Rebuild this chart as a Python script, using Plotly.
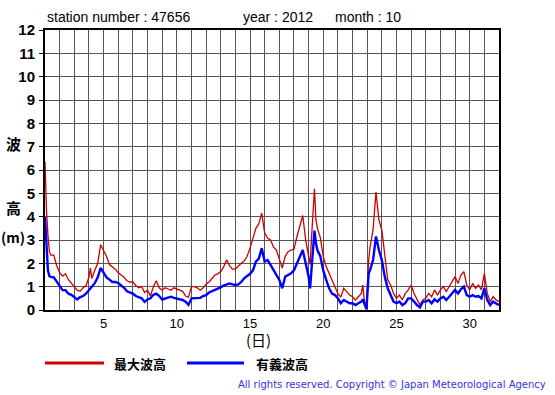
import plotly.graph_objects as go

# ---- data ----
days = [1.0, 1.05, 1.1, 1.2, 1.3, 1.4, 1.6, 1.8, 2.0, 2.2, 2.4, 2.6, 2.8, 3.0, 3.2, 3.4, 3.6, 3.8,
        4.0, 4.1, 4.2, 4.4, 4.6, 4.8, 5.0, 5.2, 5.4, 5.6, 5.8, 6.0, 6.2, 6.4, 6.6, 6.8, 7.0, 7.2, 7.4, 7.6, 7.8, 8.0,
        8.2, 8.4, 8.6, 8.8, 9.0, 9.2, 9.4, 9.6, 9.8, 10.0, 10.2, 10.4, 10.6, 10.8, 11.0, 11.2, 11.4, 11.6, 11.8,
        12.0, 12.2, 12.4, 12.6, 12.8, 13.0, 13.2, 13.4, 13.6, 13.8, 14.0, 14.2, 14.4, 14.6, 14.8, 15.0,
        15.2, 15.4, 15.6, 15.8, 16.0, 16.2, 16.4, 16.6, 16.8, 17.0, 17.2, 17.4, 17.6, 17.8, 18.0,
        18.2, 18.4, 18.6, 18.8, 19.0, 19.1, 19.2, 19.4, 19.5, 19.6, 19.8, 20.0, 20.2, 20.4, 20.6, 20.8, 21.0,
        21.2, 21.4, 21.6, 21.8, 22.0, 22.2, 22.4, 22.6, 22.7, 22.8, 22.95, 23.1, 23.2, 23.4, 23.6, 23.8, 24.0,
        24.2, 24.4, 24.6, 24.8, 25.0, 25.2, 25.4, 25.6, 25.8, 26.0, 26.2, 26.4, 26.6, 26.8, 27.0,
        27.2, 27.4, 27.6, 27.8, 28.0, 28.2, 28.4, 28.6, 28.8, 29.0, 29.2, 29.4, 29.6, 29.8, 30.0,
        30.2, 30.4, 30.6, 30.8, 31.0, 31.2, 31.4, 31.6, 31.8, 32.0]

max_wave = [6.36, 5.3, 4.3, 3.2, 2.5, 2.35, 2.35, 1.9, 1.6, 1.45, 1.55, 1.3, 1.15, 1.0, 0.85, 0.8, 0.95, 1.05,
            1.4, 1.8, 1.35, 1.7, 2.0, 2.8, 2.55, 2.3, 1.95, 1.85, 1.75, 1.6, 1.5, 1.4, 1.25, 1.2, 1.2, 1.05, 0.95, 1.0, 0.75, 0.85,
            0.6, 1.0, 1.25, 0.95, 0.85, 0.95, 0.9, 0.85, 0.95, 0.9, 0.85, 0.8, 0.6, 0.55, 1.0, 1.0, 0.95, 0.85, 0.95,
            1.1, 1.2, 1.35, 1.5, 1.55, 1.65, 1.85, 2.15, 1.9, 1.75, 1.75, 1.9, 2.0, 2.1, 2.3, 2.65,
            3.1, 3.5, 3.7, 4.15, 3.3, 3.07, 3.0, 2.7, 2.57, 2.2, 1.8, 2.3, 2.5, 2.57, 2.6,
            3.14, 3.64, 4.05, 3.0, 2.2, 1.95, 3.1, 5.2, 3.86, 3.5, 3.1, 2.3, 1.86, 1.57, 1.29, 1.07, 0.7,
            0.55, 0.93, 0.79, 0.64, 0.57, 0.43, 0.57, 0.71, 1.07, 0.43, 0.15, 2.14, 2.7, 3.43, 5.05, 3.86, 3.43,
            2.29, 1.29, 1.07, 0.71, 0.5, 0.64, 0.43, 0.71, 0.86, 1.07, 0.71, 0.43, 0.21, 0.43, 0.5,
            0.71, 0.57, 0.86, 0.64, 0.86, 1.0, 0.79, 1.0, 1.21, 1.43, 1.14, 1.5, 1.64, 1.07, 0.86,
            1.14, 0.93, 1.07, 0.86, 1.57, 0.71, 0.36, 0.57, 0.43, 0.36]

sig_wave = [4.0, 3.3, 2.6, 1.7, 1.45, 1.42, 1.4, 1.2, 1.0, 0.85, 0.85, 0.7, 0.65, 0.55, 0.45, 0.55, 0.6, 0.7,
            0.85, 0.95, 1.0, 1.15, 1.4, 1.8, 1.6, 1.4, 1.3, 1.2, 1.2, 1.15, 1.05, 0.95, 0.8, 0.75, 0.7, 0.6, 0.55, 0.5, 0.35, 0.45,
            0.5, 0.65, 0.7, 0.6, 0.45, 0.5, 0.55, 0.57, 0.52, 0.5, 0.48, 0.43, 0.36, 0.22, 0.5, 0.5, 0.5, 0.52, 0.6,
            0.64, 0.75, 0.8, 0.85, 0.9, 0.97, 1.05, 1.1, 1.14, 1.1, 1.07, 1.1, 1.2, 1.36, 1.45, 1.55,
            1.7, 2.07, 2.2, 2.65, 2.07, 2.14, 1.93, 1.7, 1.5, 1.29, 0.93, 1.43, 1.5, 1.57, 1.7,
            2.0, 2.3, 2.57, 2.0, 1.43, 0.93, 1.86, 3.4, 2.86, 2.57, 2.3, 1.7, 1.29, 0.93, 0.7, 0.64, 0.5,
            0.29, 0.43, 0.36, 0.29, 0.29, 0.21, 0.29, 0.36, 0.45, 0.29, 0.03, 1.57, 1.71, 2.14, 3.15, 2.57, 2.14,
            1.43, 0.93, 0.64, 0.36, 0.29, 0.36, 0.21, 0.29, 0.5, 0.5, 0.36, 0.21, 0.11, 0.36, 0.36,
            0.43, 0.29, 0.46, 0.36, 0.5, 0.57, 0.43, 0.57, 0.71, 0.86, 0.71, 0.89, 1.0, 0.64, 0.57,
            0.64, 0.57, 0.6, 0.5, 0.93, 0.43, 0.21, 0.36, 0.29, 0.21]

x_tick_vals = list(range(1, 33))
x_tick_text = [str(d) if d % 5 == 0 else "" for d in x_tick_vals]
y_tick_vals = list(range(0, 13))

title_parts = ["station number : 47656", "year : 2012", "month : 10"]
legend_names = ["最大波高", "有義波高"]
colors = ["#cc0000", "#0000ff"]

W, H = 555, 395
L, R, T, B = 45, 499, 30, 310


def px(x):
    """page pixel x (reference) -> paper coordinate"""
    return (x - L) / (R - L)


def py(y):
    """page pixel y (reference) -> paper coordinate"""
    return (B - y) / (B - T)


LAT = "Liberation Sans, Arial, sans-serif"
CJK = "Noto Sans CJK JP, sans-serif"

fig = go.Figure()
fig.add_trace(go.Scatter(x=days, y=max_wave, mode="lines", name=legend_names[0],
                         line=dict(color=colors[0], width=1.3)))
fig.add_trace(go.Scatter(x=days, y=sig_wave, mode="lines", name=legend_names[1],
                         line=dict(color=colors[1], width=2.4)))

fig.update_layout(
    width=W, height=H, showlegend=False,
    paper_bgcolor="white", plot_bgcolor="white",
    margin=dict(l=L, r=W - R, t=T, b=H - B, pad=0),
    xaxis=dict(range=[1, 32], tickmode="array", tickvals=x_tick_vals, ticktext=x_tick_text,
               showgrid=True, gridcolor="#555555", gridwidth=1, zeroline=False,
               showline=True, linecolor="black", linewidth=2, mirror=True,
               ticks="", tickfont=dict(family=LAT, size=13, color="black")),
    yaxis=dict(range=[0, 12], tickmode="array", tickvals=y_tick_vals,
               showgrid=True, gridcolor="#555555", gridwidth=1, zeroline=False,
               showline=True, linecolor="black", linewidth=2, mirror=True,
               ticks="outside", ticklen=4, tickcolor="black", ticklabelstandoff=1,
               tickfont=dict(family=LAT, size=15, color="black", weight="bold")),
)

ann = []
title_x = [45, 241, 333]
for t, xx in zip(title_parts, title_x):
    ann.append(dict(text=t, x=px(xx), y=py(17), xref="paper", yref="paper", xanchor="left",
                    yanchor="middle", showarrow=False, font=dict(family=LAT, size=14, color="black")))
for t, yy in [("波", 143), ("高", 207)]:
    ann.append(dict(text=t, x=px(13), y=py(yy), xref="paper", yref="paper", xanchor="center",
                    yanchor="middle", showarrow=False, font=dict(family=CJK, size=15, color="black", weight="bold")))
ann.append(dict(text="(m)", x=px(13), y=py(237), xref="paper", yref="paper", xanchor="center",
                yanchor="middle", showarrow=False, font=dict(family=CJK, size=14, color="black", weight="bold")))
ann.append(dict(text="(日)", x=px(258), y=py(339), xref="paper", yref="paper", xanchor="center",
                yanchor="middle", showarrow=False, font=dict(family=CJK, size=15, color="black")))
# legend
leg = [(45, 104, 112), (187, 244, 254)]
shapes = []
for (x0, x1, xt), name, c in zip(leg, legend_names, colors):
    shapes.append(dict(type="line", xref="paper", yref="paper", x0=px(x0), x1=px(x1), y0=py(363), y1=py(363),
                       line=dict(color=c, width=3)))
    ann.append(dict(text=name, x=px(xt), y=py(363), xref="paper", yref="paper", xanchor="left",
                    yanchor="middle", showarrow=False, font=dict(family=CJK, size=13, color="black", weight="bold")))
ann.append(dict(text="All rights reserved. Copyright © Japan Meteorological Agency", x=px(548), y=py(384),
                xref="paper", yref="paper", xanchor="right", yanchor="middle", showarrow=False,
                font=dict(family="DejaVu Sans, sans-serif", size=10, color="#3333dd")))
fig.update_layout(annotations=ann, shapes=shapes)

fig.write_html("out.html", config={"displayModeBar": False},
               post_script="document.body.style.margin='0';")
